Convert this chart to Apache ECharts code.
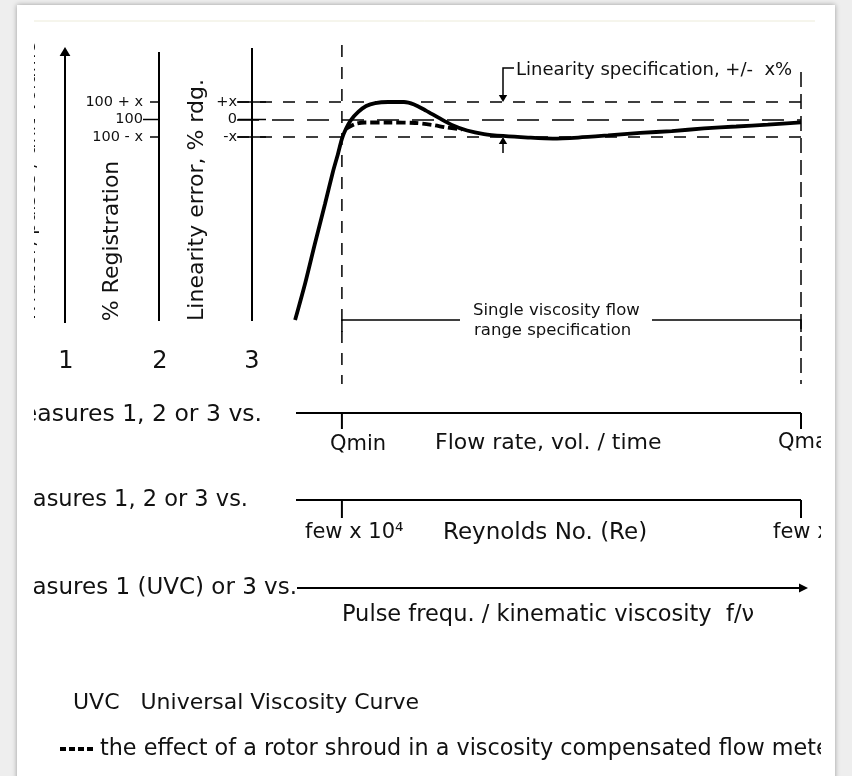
<!DOCTYPE html>
<html><head><meta charset="utf-8">
<script src="https://cdn.jsdelivr.net/npm/echarts@6/dist/echarts.min.js"></script>
<style>
html,body{margin:0;padding:0;background:#eeeeee;width:852px;height:776px;overflow:hidden;}
#card{position:absolute;left:17px;top:5px;width:818px;height:800px;background:#fff;box-shadow:0 0 5px rgba(0,0,0,0.35);}
#chart{position:absolute;left:34px;top:0;width:787px;height:776px;overflow:hidden;}
</style></head><body>
<div id="card"></div><div id="chart"></div>
<script>
// ---- data (flow rate as % of Qmax, linearity error in units of x %) ----
const uvcFlow  = [10.3, 12.1, 13.8, 15.6, 17.0, 17.9, 18.6, 19.3, 20.2, 21.5, 22.9, 24.5, 26.8, 29.6, 31.4, 33.5, 35.8, 38.1, 40.8, 43.8, 47.2, 51.6, 56.0, 60.5, 65.8, 71.5, 77.1, 82.8, 88.5, 94.1, 100];
const uvcError = [-11.46, -9.34, -7.11, -4.83, -3.0, -1.97, -1.11, -0.54, -0.03, 0.43, 0.77, 0.94, 1.0, 1.0, 0.86, 0.51, 0.09, -0.31, -0.63, -0.83, -0.94, -1.03, -1.09, -1.03, -0.91, -0.77, -0.66, -0.51, -0.40, -0.29, -0.17];
const shroudFlow  = [19.3, 20.9, 22.7, 27.1, 31.6, 34.6, 37.2, 39.9];
const shroudError = [-0.54, -0.26, -0.17, -0.17, -0.20, -0.31, -0.46, -0.57];
const specLevels = [1, 0, -1];
const rdgLabels = ['+x', '0', '-x'];
const regLabels = ['100 + x', '100', '100 - x'];
const qMin = 18.6, qMax = 100;
const axisNumbers = ['1', '2', '3'];
const rowTexts = ['Measures 1, 2 or 3 vs.', 'Measures 1, 2 or 3 vs.', 'Measures 1 (UVC) or 3 vs.'];
const flowLabels = ['Qmin', 'Flow rate, vol. / time', 'Qmax'];
const reLabels = ['few x 10\u2074', 'Reynolds No. (Re)', 'few x 10\u2076'];
const uvcAxisLabel = 'Pulse frequ. / kinematic viscosity  f/\u03bd';

const OX = 34; // left edge of the cropped scan
const chart = echarts.init(document.getElementById('chart'));
const FONT = '"DejaVu Sans"';
chart.setOption({
  animation: false,
  backgroundColor: 'transparent',
  grid: {left: 237 - OX, top: 49.5, width: 564, height: 280},
  xAxis: {type: 'value', min: 0, max: 100, show: false},
  yAxis: {type: 'value', min: -12, max: 4, show: false},
  series: [
    {type: 'line', name: 'UVC', data: uvcFlow.map((v, i) => [v, uvcError[i]]), symbol: 'none', smooth: 0.25,
     lineStyle: {color: '#000', width: 3.8}, z: 5,
     markLine: {silent: true, symbol: 'none', label: {show: false},
       data: specLevels.map(v => ({yAxis: v, lineStyle: {color: '#000', width: 1.5, type: v === 0 ? [22, 13] : [12, 11]}}))}},
    {type: 'line', name: 'shroud', data: shroudFlow.map((v, i) => [v, shroudError[i]]), symbol: 'none', smooth: 0.3,
     lineStyle: {color: '#000', width: 3.8, type: [9, 4]}, z: 4}
  ]
});

// page-pixel helpers (data -> page coordinates)
const px = v => chart.convertToPixel({gridIndex: 0}, [v, 0])[0] + OX;
const py = v => chart.convertToPixel({gridIndex: 0}, [0, v])[1];
const qMinX = px(qMin), qMaxX = px(qMax);

const els = [];
function ln(x1, y1, x2, y2, w, dash) {
  els.push({type: 'line', silent: true, z: 10, shape: {x1: x1 - OX, y1, x2: x2 - OX, y2}, style: {stroke: '#000', lineWidth: w || 2, lineDash: dash || null}});
}
function poly(points, w) {
  els.push({type: 'polyline', silent: true, z: 10, shape: {points: points.map(p => [p[0] - OX, p[1]])}, style: {stroke: '#000', fill: null, lineWidth: w || 2}});
}
function tri(x, y, dir, s) {
  const pts = dir === 'up' ? [[x, y], [x - s * 0.6, y + s], [x + s * 0.6, y + s]]
    : dir === 'down' ? [[x, y], [x - s * 0.6, y - s], [x + s * 0.6, y - s]]
    : [[x, y], [x - s, y - s * 0.5], [x - s, y + s * 0.5]];
  els.push({type: 'polygon', silent: true, z: 10, shape: {points: pts.map(p => [p[0] - OX, p[1]])}, style: {fill: '#000'}});
}
function tx(t, x, y, size, align, rot) {
  els.push({type: 'text', silent: true, z: 10, x: x - OX, y, rotation: rot || 0,
    style: {text: t, x: 0, y: 0, fill: '#111', font: size + 'px ' + FONT, align: align || 'left', verticalAlign: 'middle'}});
}

// thin top rule
els.push({type: 'line', silent: true, z: 1, shape: {x1: 0, y1: 21, x2: 815 - OX, y2: 21}, style: {stroke: '#ecebd9', lineWidth: 1}});

// vertical measure axes
ln(65, 52, 65, 323); tri(65, 47, 'up', 9);
ln(159, 52, 159, 321);
ln(252, 48, 252, 321);
axisNumbers.forEach((t, i) => tx(t, [66, 160, 252][i], 362, 24, 'center'));

// axis titles (axis 1 title is cut off by the scan edge)
tx('K-factor, pulses / unit volume', 30.5, 181, 19, 'center', Math.PI / 2);
tx('% Registration', 112, 241, 22, 'center', Math.PI / 2);
tx('Linearity error, % rdg.', 197, 200, 22, 'center', Math.PI / 2);

specLevels.forEach((v, i) => {
  const y = py(v);
  ln(v === 0 ? 143 : 150, y, 160, y, 1.5);
  tx(regLabels[i], 143, y, 14.5, 'right');
  ln(238, y, 266, y, 1.5);
  tx(rdgLabels[i], 237, y, 14.5, 'right');
});

// Qmin / Qmax dashed verticals
ln(qMinX, 45, qMinX, 384, 1.5, [12, 10]);
ln(qMaxX, 72, qMaxX, 384, 1.5, [15, 7]);

// linearity specification bracket
poly([[514, 68], [503, 68], [503, py(1) - 6]], 1.5); tri(503, py(1), 'down', 7);
ln(503, 153, 503, py(-1) + 6, 1.5); tri(503, py(-1), 'up', 7);
tx('Linearity specification, +/-  x%', 516, 70, 18, 'left');

// single viscosity range bracket
poly([[qMinX, 332], [qMinX, 320], [460, 320]], 1.5);
poly([[652, 320], [qMaxX, 320], [qMaxX, 332]], 1.5);
tx('Single viscosity flow', 473, 311, 16.5, 'left');
tx('range specification', 474, 331, 16.5, 'left');

// row 1: flow rate
tx(rowTexts[0], 262, 415, 23.5, 'right');
ln(296, 413, qMaxX, 413, 2); ln(qMinX, 413, qMinX, 429, 2); ln(qMaxX, 413, qMaxX, 429, 2);
tx(flowLabels[0], 330, 445, 21, 'left');
tx(flowLabels[1], 435, 443, 22, 'left');
tx(flowLabels[2], 778, 443, 21, 'left');

// row 2: Reynolds
tx(rowTexts[1], 248, 500, 22.5, 'right');
ln(296, 500, qMaxX, 500, 2); ln(qMinX, 500, qMinX, 518, 2); ln(qMaxX, 500, qMaxX, 518, 2);
tx(reLabels[0], 305, 533, 21, 'left');
tx(reLabels[1], 443, 533, 23, 'left');
tx(reLabels[2], 773, 533, 21, 'left');

// row 3: UVC abscissa
tx(rowTexts[2], 297, 588, 23, 'right');
ln(297, 588, 800, 588, 2); tri(808, 588, 'right', 9);
tx(uvcAxisLabel, 548, 615, 22.5, 'center');

// footer
tx('UVC   Universal Viscosity Curve', 73, 703, 22, 'left');
ln(60, 749, 93, 749, 4, [6, 3]);
tx('the effect of a rotor shroud in a viscosity compensated flow meter', 100, 749, 22.3, 'left');

chart.setOption({graphic: {elements: els}});
</script>
</body></html>
